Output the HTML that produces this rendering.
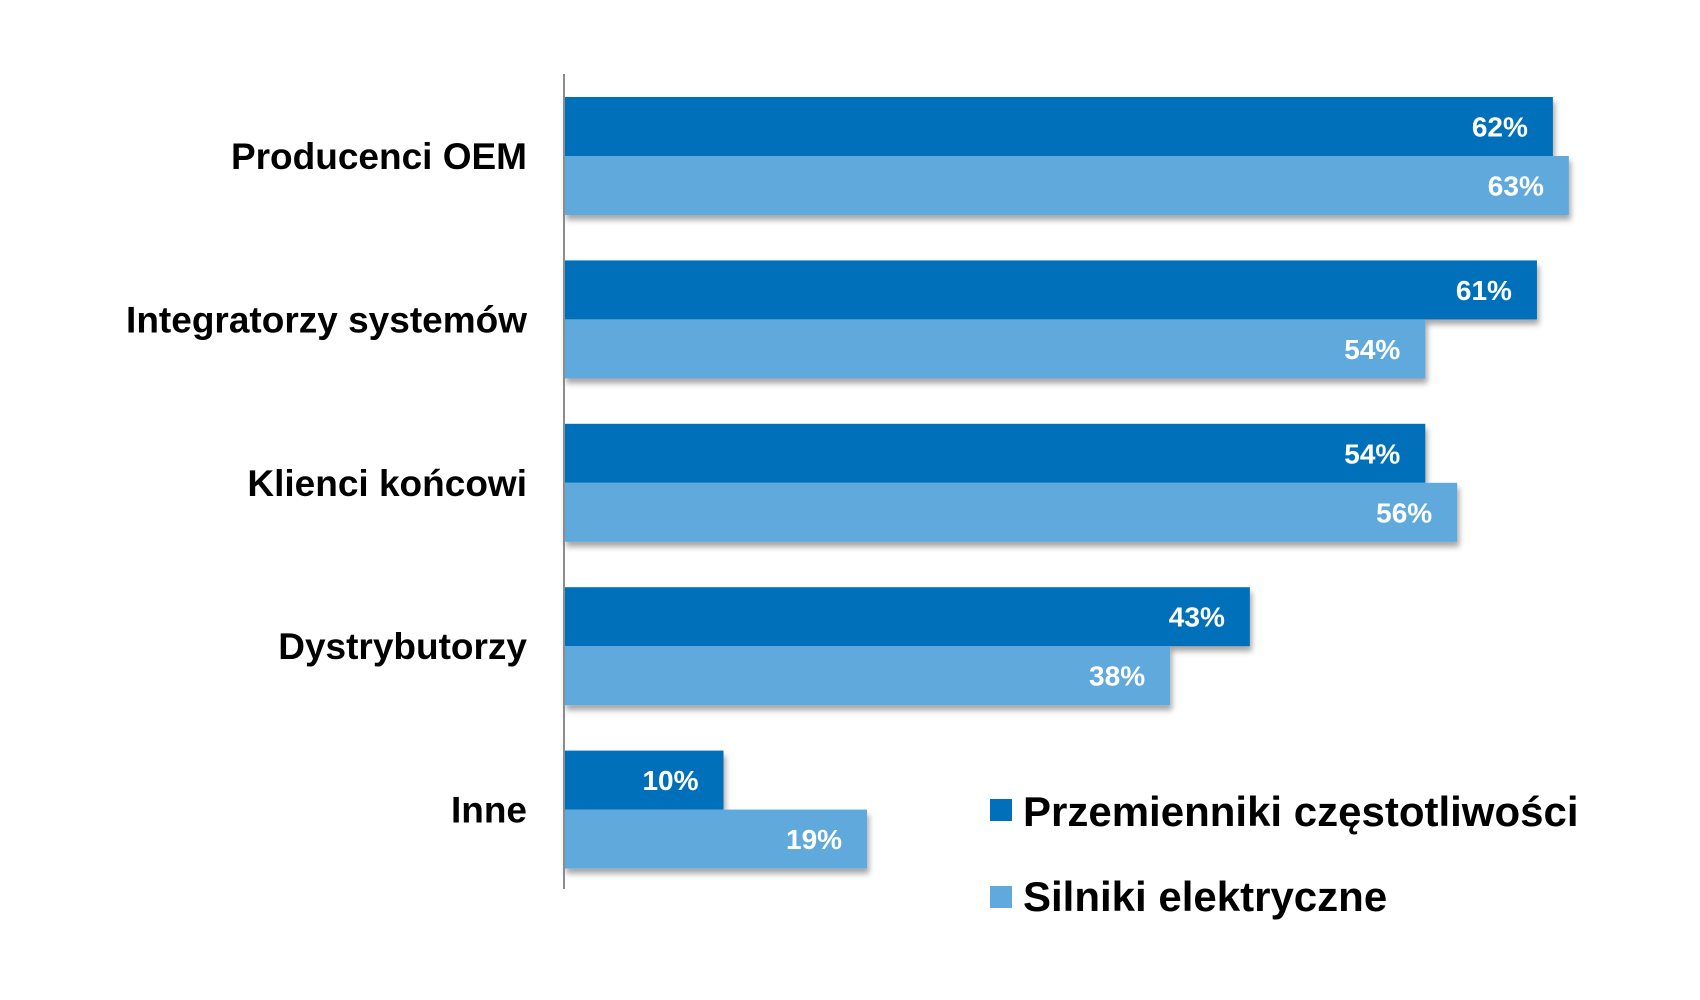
<!DOCTYPE html>
<html><head><meta charset="utf-8"><style>
html,body{margin:0;padding:0;background:#fff;}
svg{display:block;font-family:"Liberation Sans",Arial,sans-serif;}
</style></head><body>
<svg id="chart" width="1700" height="1000" viewBox="0 0 1700 1000" xmlns="http://www.w3.org/2000/svg">
<defs>
<filter id="sh" x="-5%" y="-20%" width="110%" height="160%">
<feDropShadow dx="2" dy="5" stdDeviation="3" flood-color="#000" flood-opacity="0.35"/>
</filter>
</defs>
<g id="bars"></g>
<line x1="564" y1="74" x2="564" y2="889" stroke="#8c8c8c" stroke-width="2"/>
<g id="cats"></g>
<g>
<g>
<rect x="990" y="799" width="22" height="22" fill="#0070BA"/>
<text x="1023" y="826" font-size="42" font-weight="bold" fill="#000">Przemienniki częstotliwości</text>
</g>
<g>
<rect x="990" y="886" width="22" height="22" fill="#5FA9DC"/>
<text x="1023" y="911" font-size="42" font-weight="bold" fill="#000">Silniki elektryczne</text>
</g>
</g>
</svg>
<script>
const categories = ["Producenci OEM","Integratorzy systemów","Klienci końcowi","Dystrybutorzy","Inne"];
const seriesConverters = [62,61,54,43,10];
const seriesMotors = [63,54,56,38,19];
const valueLabelsConverters = ["62%","61%","54%","43%","10%"];
const valueLabelsMotors = ["63%","54%","56%","38%","19%"];

const NS="http://www.w3.org/2000/svg";
const x0=564, pxPer=15.95, groupTop=97, groupStep=163.4, barH=59;
function xScale(v){return x0+v*pxPer;}
function yGroup(i){return groupTop+i*groupStep;}
const bars=document.getElementById('bars'), cats=document.getElementById('cats');
function mk(tag,attrs,parent){const e=document.createElementNS(NS,tag);for(const k in attrs)e.setAttribute(k,attrs[k]);parent.appendChild(e);return e;}
categories.forEach((c,i)=>{
  const y=yGroup(i);
  const g=mk('g',{filter:'url(#sh)'},bars);
  
  
  [[seriesConverters,'#0070BA',valueLabelsConverters,'converters'],[seriesMotors,'#5FA9DC',valueLabelsMotors,'motors']].forEach((s,j)=>{
    const v=s[0][i], by=y+j*barH;
    const r=mk('rect',{x:x0,y:by,width:xScale(v)-x0,height:barH,fill:s[1]},g);
    
    
    const t=mk('text',{x:xScale(v)-25,y:by+barH/2+10,'text-anchor':'end','font-size':'28','font-weight':'bold',fill:'#fff'},bars);
    
    
    t.textContent=s[2][i];
  });
  const l=mk('text',{x:527,y:y+barH+13,'text-anchor':'end','font-size':'37','font-weight':'bold',fill:'#000'},cats);
  
  
  l.textContent=c;
});
</script>
</body></html>
